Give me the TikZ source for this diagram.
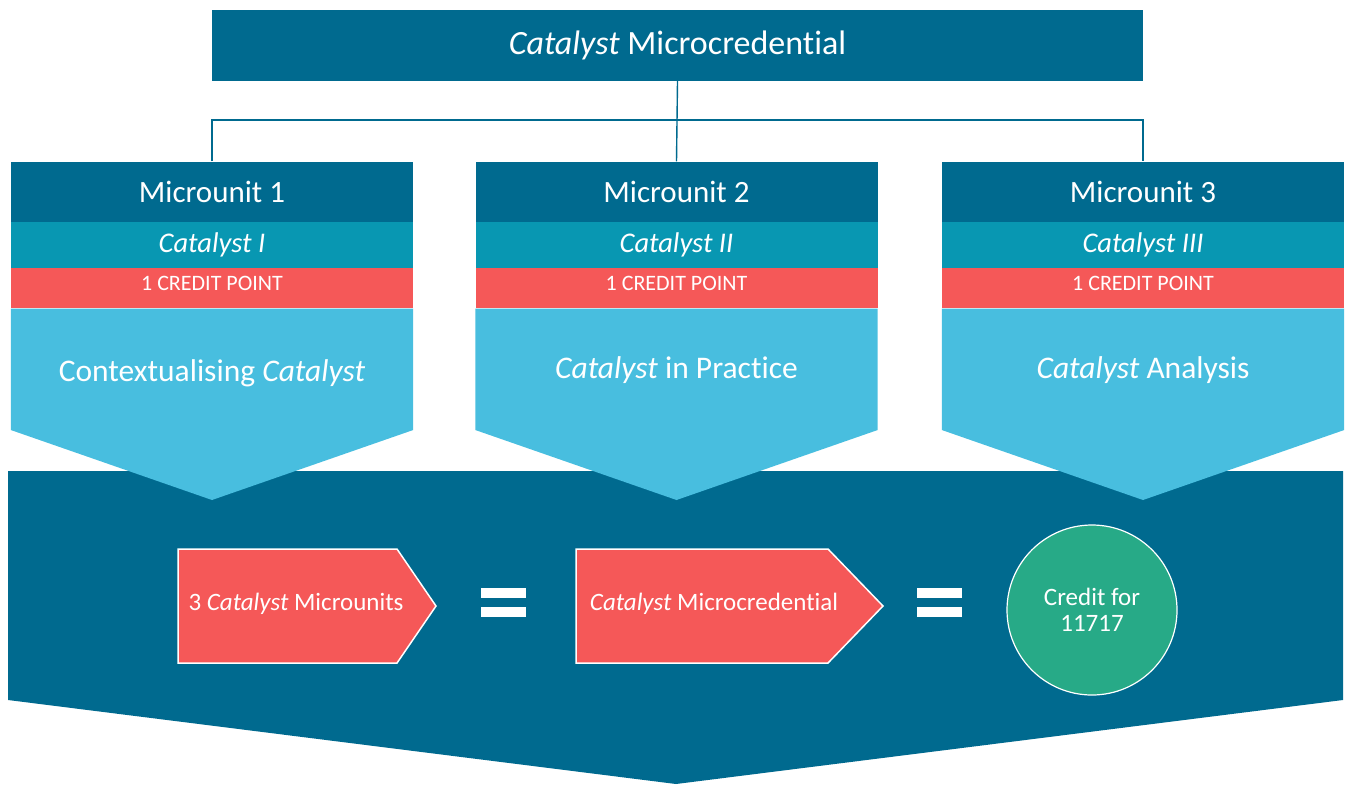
\documentclass[tikz,border=0pt]{standalone}
\usepackage{fontspec}
\setmainfont{Carlito}[Ligatures=NoCommon]
\usetikzlibrary{positioning}
\definecolor{dkblue}{RGB}{0,106,143}
\definecolor{tealband}{RGB}{8,151,178}
\definecolor{coral}{RGB}{245,88,88}
\definecolor{skyblue}{RGB}{72,190,223}
\definecolor{credgreen}{RGB}{39,170,135}
\tikzset{
  titlebox/.style={fill=dkblue, text=white, minimum width=931pt, minimum height=71pt, inner sep=0pt, font=\fontsize{34}{38}\selectfont},
  hdr/.style={fill=dkblue, text=white, minimum width=402pt, minimum height=60pt, inner sep=0pt, font=\fontsize{31}{34}\selectfont},
  catband/.style={fill=tealband, text=white, minimum width=402pt, minimum height=46pt, inner sep=0pt, font=\fontsize{28.5}{32}\selectfont\itshape},
  credband/.style={fill=coral, text=white, minimum width=402pt, minimum height=40pt, inner sep=0pt, text depth=9pt, font=\fontsize{22}{25}\selectfont},
  topic/.style={text=white, font=\fontsize{31.5}{35}\selectfont},
  arrowtxt/.style={text=white, font=\fontsize{25}{28}\selectfont},
  link/.style={draw=dkblue, line width=1.4pt},
}
\begin{document}
\begin{tikzpicture}[x=1pt, y=-1pt]
  %%%%% START %%%%%
  \useasboundingbox (0,0) rectangle (1351,785);

  % big chevron at the bottom
  \fill[dkblue] (8,471) -- (1343,471) -- (1343,700) -- (676,784) -- (8,700) -- cycle;

  \node[titlebox] (title) at (677.5,45.5) {\textit{Catalyst} Microcredential};

  % microunit 1
  \node[hdr] (mu1) at (212,191.5) {Microunit 1};
  \node[catband, below=0pt of mu1] (cat1) {Catalyst I};
  \node[credband, below=0pt of cat1] (cr1) {1 CREDIT POINT};
  \fill[skyblue] (cr1.south west) -- (cr1.south west |- 0,430) -- (cr1.south |- 0,500)
    -- (cr1.south east |- 0,430) -- (cr1.south east) -- cycle;
  \node[topic] (top1) at (cr1.south |- 0,373) {Contextualising \textit{Catalyst}};

  % microunit 2
  \node[hdr] (mu2) at (676.5,191.5) {Microunit 2};
  \node[catband, below=0pt of mu2] (cat2) {Catalyst II};
  \node[credband, below=0pt of cat2] (cr2) {1 CREDIT POINT};
  \fill[skyblue] (cr2.south west) -- (cr2.south west |- 0,430) -- (cr2.south |- 0,500)
    -- (cr2.south east |- 0,430) -- (cr2.south east) -- cycle;
  \node[topic] (top2) at (cr2.south |- 0,370) {\textit{Catalyst} in Practice};

  % microunit 3
  \node[hdr] (mu3) at (1143,191.5) {Microunit 3};
  \node[catband, below=0pt of mu3] (cat3) {Catalyst III};
  \node[credband, below=0pt of cat3] (cr3) {1 CREDIT POINT};
  \fill[skyblue] (cr3.south west) -- (cr3.south west |- 0,430) -- (cr3.south |- 0,500)
    -- (cr3.south east |- 0,430) -- (cr3.south east) -- cycle;
  \node[topic] (top3) at (cr3.south |- 0,370) {\textit{Catalyst} Analysis};

  % connectors
  \coordinate (bus) at (676.5,120);
  \draw[link] (title.south) -- (mu2.north);
  \draw[link] (mu1.north) |- (bus) -| (mu3.north);

  % sum
  \draw[fill=coral, draw=white, line width=1.5pt] (178,549) -- (397,549) -- (436,606) -- (397,663) -- (178,663) -- cycle;
  \node[arrowtxt] (units) at (296,604) {3 \textit{Catalyst} Microunits};
  \fill[white] (481,588) rectangle (526,598);
  \fill[white] (481,607) rectangle (526,617);
  \draw[fill=coral, draw=white, line width=1.5pt] (576,549) -- (828,549) -- (883,606) -- (828,663) -- (576,663) -- cycle;
  \node[arrowtxt] (mcred) at (714,604) {\textit{Catalyst} Microcredential};
  \fill[white] (917,588) rectangle (962,598);
  \fill[white] (917,607) rectangle (962,617);
  \node[circle, fill=credgreen, draw=white, line width=1.2pt, minimum size=170pt, inner sep=0pt,
    align=center, text=white, font=\fontsize{25}{26}\selectfont] (credit) at (1092,610) {Credit for\\11717};

  %%%%% END %%%%%
\end{tikzpicture}
\end{document}
